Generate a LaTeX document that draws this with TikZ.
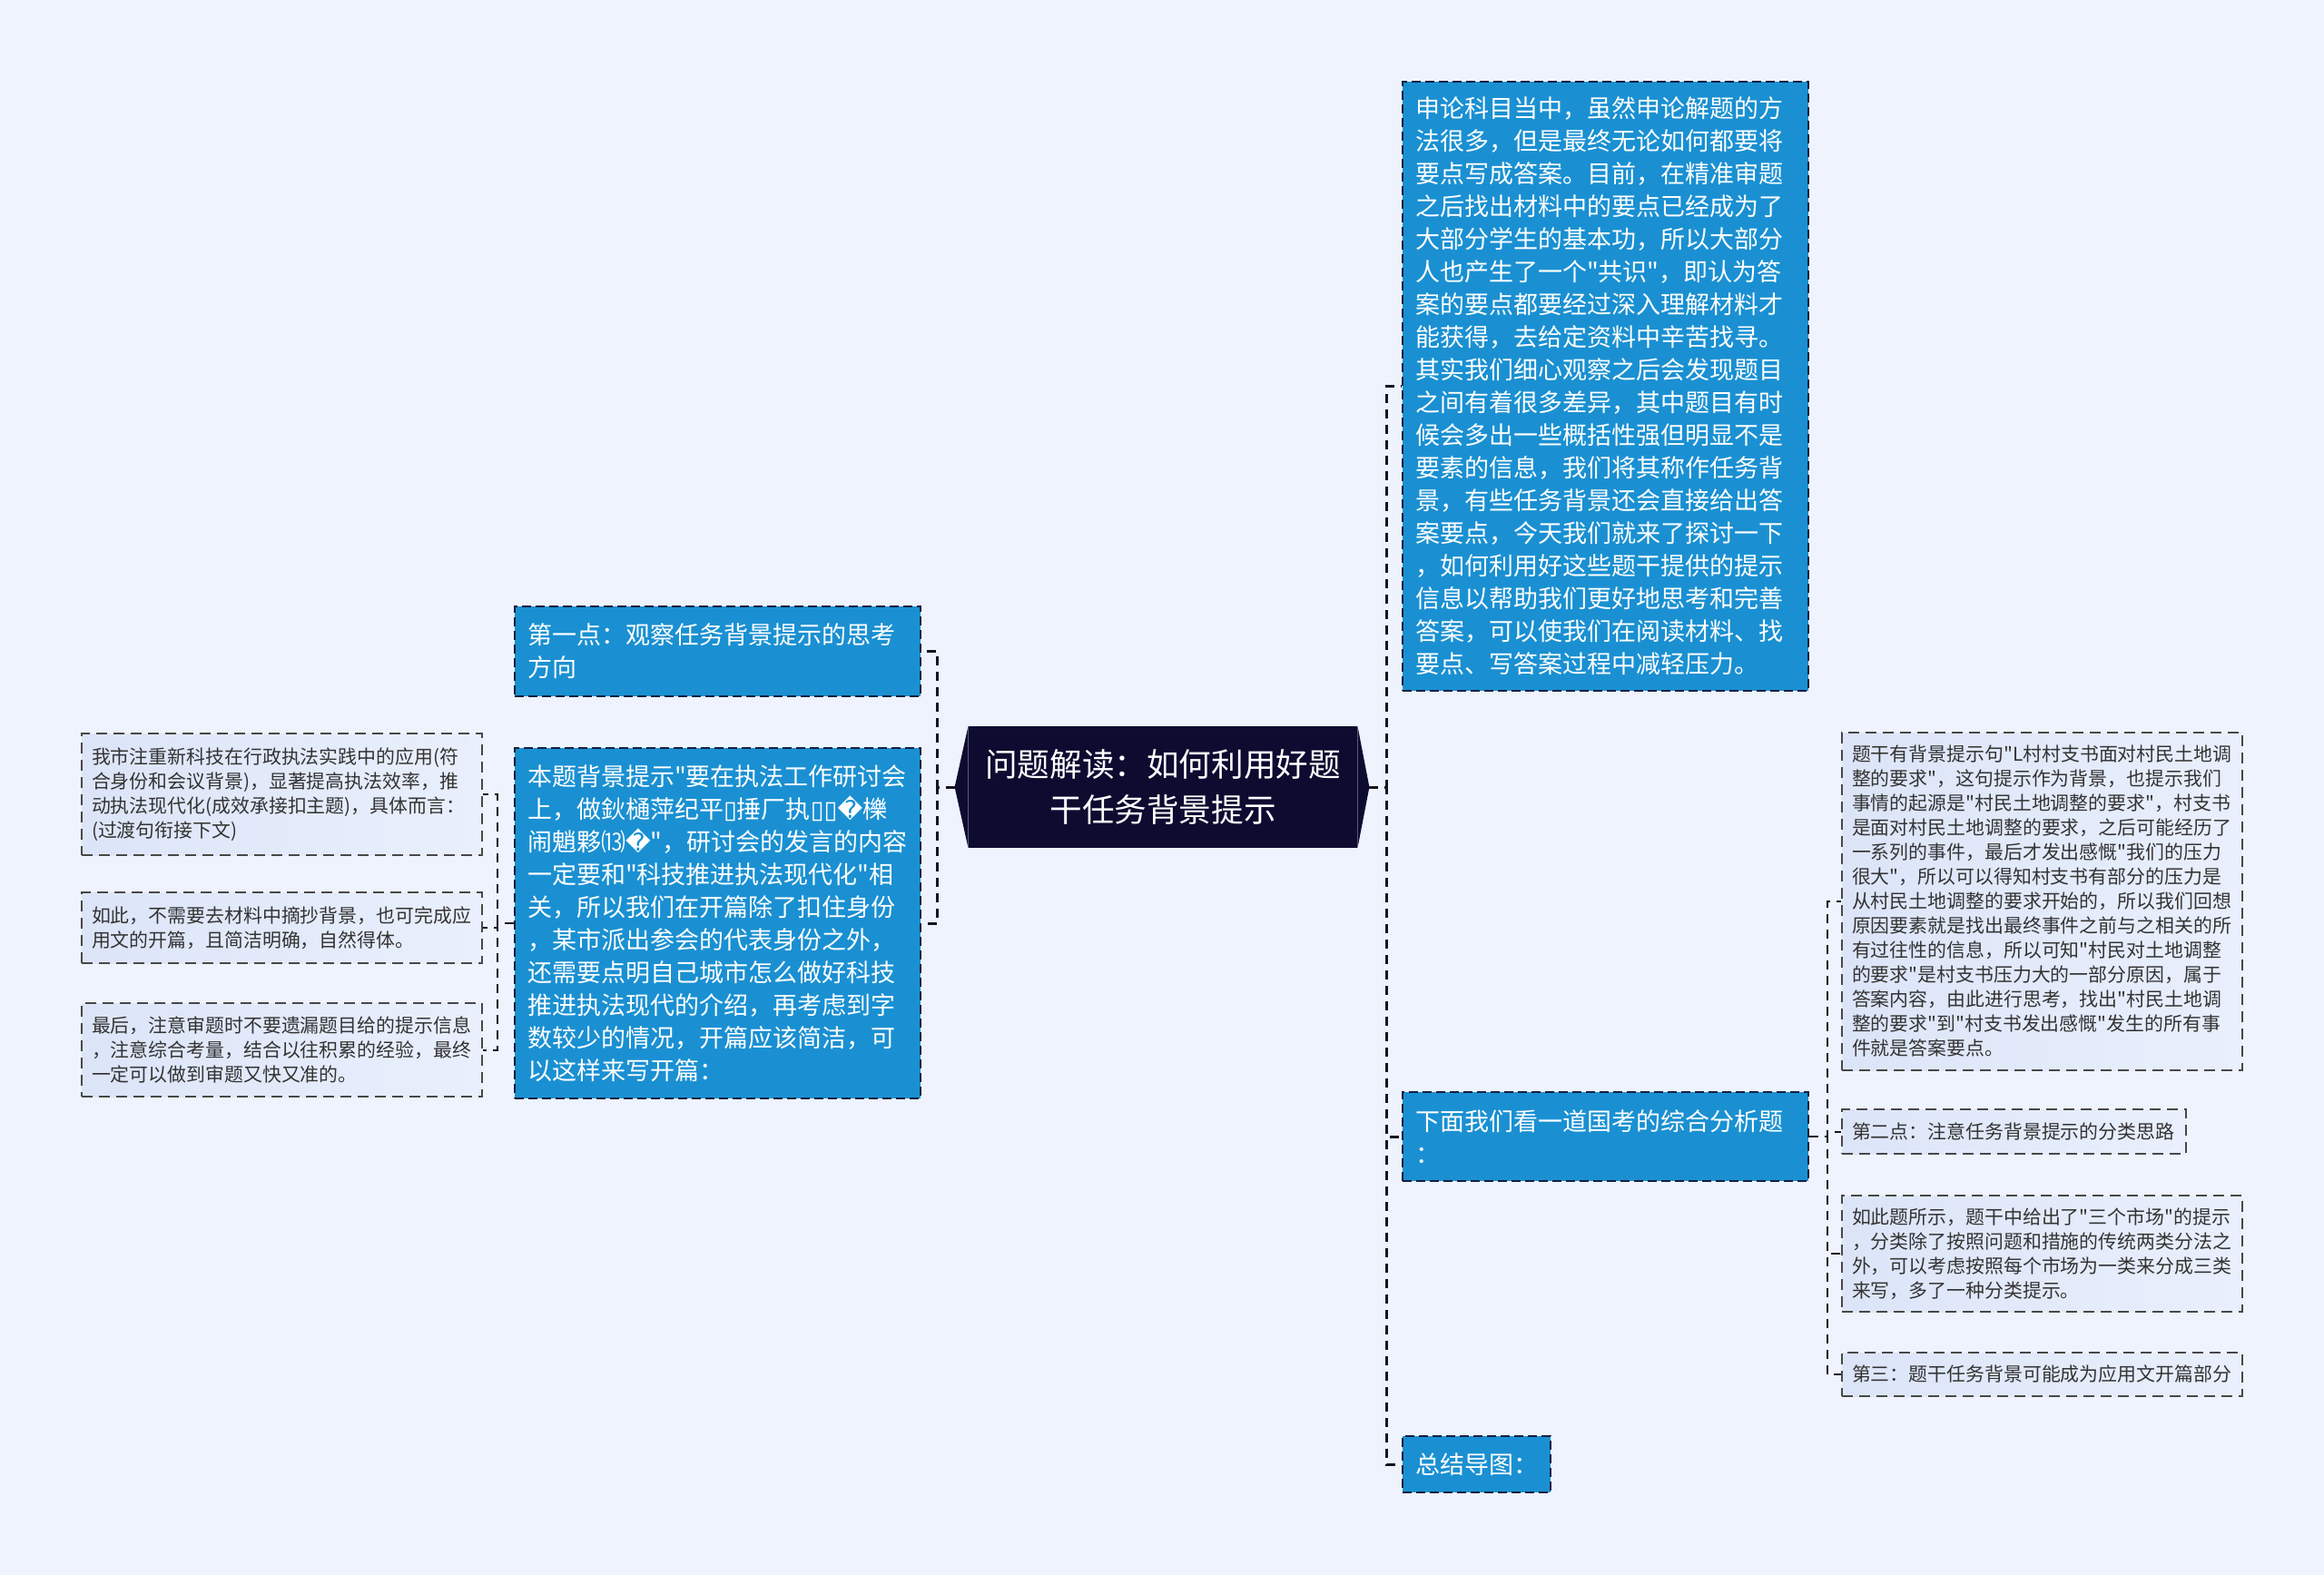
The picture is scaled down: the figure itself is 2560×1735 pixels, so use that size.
\documentclass[tikz,border=0pt]{standalone}
\usepackage{fontspec}
\setmainfont{Noto Sans CJK SC}
\newfontfamily\cjk{Noto Sans CJK SC}
\newfontfamily\dejavu{DejaVu Sans}
\definecolor{bgc}{HTML}{EEF3FD}
\definecolor{bluefill}{HTML}{1A90D2}
\definecolor{rootfill}{HTML}{0D0B30}
\definecolor{bordernavy}{HTML}{14203F}
\definecolor{lightA}{HTML}{DCE5F8}
\definecolor{lightB}{HTML}{E9EFFC}
\definecolor{lightborder}{HTML}{484848}
\definecolor{linec}{HTML}{15151F}
\definecolor{textdark}{HTML}{333333}
\newcommand\replchar{{\dejavu\char"FFFD}}
\newcommand\tofubox{{\dejavu\char"25AF}}
\begin{document}
\begin{tikzpicture}[x=0.5pt,y=-0.5pt,
  bluebox/.style={draw=bordernavy, line width=0.9pt, dash pattern=on 5pt off 2.5pt,
    fill=bluefill, text=white, align=left, inner xsep=7pt, inner ysep=0pt,
    text width=#1, minimum width=#1+14pt,
    font=\cjk\fontsize{13.5pt}{18pt}\selectfont},
  lightbox/.style={draw=lightborder, line width=0.9pt, dash pattern=on 6pt off 3.5pt,
    left color=lightA, right color=lightB, text=textdark, align=left,
    inner xsep=5.5pt, inner ysep=0pt, text width=#1,
    font=\cjk\fontsize{10.45pt}{13.5pt}\selectfont},
  rootbox/.style={fill=rootfill, text=white, align=center, inner sep=0pt,
    minimum width=214pt, minimum height=67pt,
    font=\cjk\fontsize{17.8pt}{25pt}\selectfont},
  mainline/.style={draw=linec, line width=1.5pt, dash pattern=on 5pt off 3.5pt},
  leafline/.style={draw=linec, line width=1pt, dash pattern=on 5pt off 3.5pt},
]
\useasboundingbox (0,0) rectangle (2560,1735);
\fill[bgc] (0,0) rectangle (2560,1735);

% root
\node[rootbox] (root) at (1281,867) {问题解读：如何利用好题\\干任务背景提示};
\fill[rootfill] (root.north west) -- ([xshift=-7.5pt]root.west) -- (root.south west) -- cycle;
\fill[rootfill] (root.north east) -- ([xshift=6.5pt]root.east) -- (root.south east) -- cycle;
\coordinate (rootL) at ([xshift=-7.5pt]root.west);
\coordinate (rootR) at ([xshift=6.5pt]root.east);

% left side
\node[bluebox=209.5pt, minimum height=49.5pt] (L1) at (790.5,717.5)
  {第一点：观察任务背景提示的思考\\方向};
\node[bluebox=209.5pt, minimum height=193pt] (L2) at (790.5,1017)
  {本题背景提示"要在执法工作研讨会\\
   上，做鈥樋萍纪平\tofubox 捶厂执\tofubox\tofubox\replchar 櫟\\
   闹魈夥⒀\replchar"，研讨会的发言的内容\\
   一定要和"科技推进执法现代化"相\\
   关，所以我们在开篇除了扣住身份\\
   ，某市派出参会的代表身份之外，\\
   还需要点明自己城市怎么做好科技\\
   推进执法现代的介绍，再考虑到字\\
   数较少的情况，开篇应该简洁，可\\
   以这样来写开篇：};

\node[lightbox=209.5pt, minimum width=220.5pt, minimum height=67pt] (LL1) at (310.5,875)
  {我市注重新科技在行政执法实践中的应用(符\\
   合身份和会议背景)，显著提高执法效率，推\\
   动执法现代化(成效承接扣主题)，具体而言：\\
   (过渡句衔接下文)};
\node[lightbox=209.5pt, minimum width=220.5pt, minimum height=39pt] (LL2) at (310.5,1022)
  {如此，不需要去材料中摘抄背景，也可完成应\\
   用文的开篇，且简洁明确，自然得体。};
\node[lightbox=209.5pt, minimum width=220.5pt, minimum height=51.5pt] (LL3) at (310.5,1156.5)
  {最后，注意审题时不要遗漏题目给的提示信息\\
   ，注意综合考量，结合以往积累的经验，最终\\
   一定可以做到审题又快又准的。};

% right side
\node[bluebox=209.5pt, minimum height=335.5pt] (R1) at (1768.5,425.5)
  {申论科目当中，虽然申论解题的方\\
   法很多，但是最终无论如何都要将\\
   要点写成答案。目前，在精准审题\\
   之后找出材料中的要点已经成为了\\
   大部分学生的基本功，所以大部分\\
   人也产生了一个"共识"，即认为答\\
   案的要点都要经过深入理解材料才\\
   能获得，去给定资料中辛苦找寻。\\
   其实我们细心观察之后会发现题目\\
   之间有着很多差异，其中题目有时\\
   候会多出一些概括性强但明显不是\\
   要素的信息，我们将其称作任务背\\
   景，有些任务背景还会直接给出答\\
   案要点，今天我们就来了探讨一下\\
   ，如何利用好这些题干提供的提示\\
   信息以帮助我们更好地思考和完善\\
   答案，可以使我们在阅读材料、找\\
   要点、写答案过程中减轻压力。};
\node[bluebox=209.5pt, minimum height=49pt] (R2) at (1768.5,1252)
  {下面我们看一道国考的综合分析题\\：};
\node[bluebox=67.5pt, minimum height=31pt] (R3) at (1626.5,1613)
  {总结导图：};

\node[lightbox=209.5pt, minimum width=220.5pt, minimum height=186pt] (RR1) at (2249.5,993)
  {题干有背景提示句"L村村支书面对村民土地调\\
   整的要求"，这句提示作为背景，也提示我们\\
   事情的起源是"村民土地调整的要求"，村支书\\
   是面对村民土地调整的要求，之后可能经历了\\
   一系列的事件，最后才发出感慨"我们的压力\\
   很大"，所以可以得知村支书有部分的压力是\\
   从村民土地调整的要求开始的，所以我们回想\\
   原因要素就是找出最终事件之前与之相关的所\\
   有过往性的信息，所以可知"村民对土地调整\\
   的要求"是村支书压力大的一部分原因，属于\\
   答案内容，由此进行思考，找出"村民土地调\\
   整的要求"到"村支书发出感慨"发生的所有事\\
   件就是答案要点。};
\node[lightbox=178.5pt, minimum width=189.5pt, minimum height=24.5pt] (RR2) at (2218.5,1246.5)
  {第二点：注意任务背景提示的分类思路};
\node[lightbox=209.5pt, minimum width=220.5pt, minimum height=64pt] (RR3) at (2249.5,1381)
  {如此题所示，题干中给出了"三个市场"的提示\\
   ，分类除了按照问题和措施的传统两类分法之\\
   外，可以考虑按照每个市场为一类来分成三类\\
   来写，多了一种分类提示。};
\node[lightbox=209.5pt, minimum width=220.5pt, minimum height=24pt] (RR4) at (2249.5,1514)
  {第三：题干任务背景可能成为应用文开篇部分};

% connectors
\draw[mainline] (rootL) -- ++(-19,0) |- (L1.east);
\draw[mainline] (rootL) -- ++(-19,0) |- (L2.east);
\draw[mainline] (rootR) -- ++(19,0) |- (R1.west);
\draw[mainline] (rootR) -- ++(19,0) |- (R2.west);
\draw[mainline] (rootR) -- ++(19,0) |- (R3.west);
\draw[leafline] (L2.west) -- ++(-18,0) |- (LL1.east);
\draw[leafline] (L2.west) -- ++(-18,0) |- (LL2.east);
\draw[leafline] (L2.west) -- ++(-18,0) |- (LL3.east);
\draw[leafline] (R2.east) -- ++(20,0) |- (RR1.west);
\draw[leafline] (R2.east) -- ++(20,0) |- (RR2.west);
\draw[leafline] (R2.east) -- ++(20,0) |- (RR3.west);
\draw[leafline] (R2.east) -- ++(20,0) |- (RR4.west);
\end{tikzpicture}
\end{document}
